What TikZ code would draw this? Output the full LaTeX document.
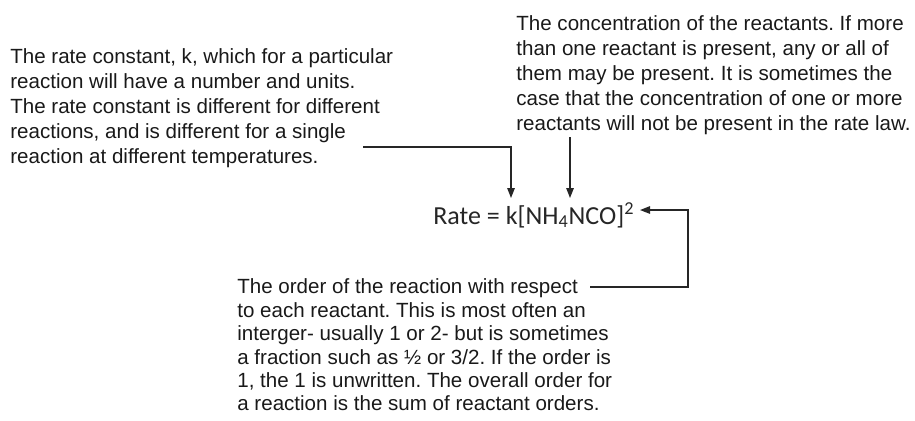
\documentclass[tikz,border=0pt]{standalone}
\usepackage{fontspec}
\setmainfont{Liberation Sans}
\newfontfamily\eqfont{Carlito}
\usetikzlibrary{arrows.meta,positioning}
\frenchspacing

\begin{document}
\begin{tikzpicture}[
		x=0.02cm,y=-0.02cm,
		lab/.style={font=\fontsize{11.7}{14.2}\selectfont,align=left,inner sep=0pt,text=black!90},
		lawtext/.style={font=\eqfont\fontsize{14.8}{17}\selectfont,inner sep=0pt,text=black!85},
		arr/.style={-{Triangle[length=0.2cm,width=0.15cm]},line width=0.75pt,draw=black!85}
		]
		
		\useasboundingbox (0,0) rectangle (915,420);
		
		% --- Rate law
		\node[lawtext,anchor=base west] (law) at (433,224)
			{Rate = k[NH\textsubscript{4}NCO]\textsuperscript{2}};
		
		% --- Explanations
		\node[lab,anchor=west] (kconst) at (10,108) {
			The rate constant, k, which for a particular\\
			reaction will have a number and units.\\
			The rate constant is different for different\\
			reactions, and is different for a single\\
			reaction at different temperatures.
		};
		\node[lab,anchor=west] (conc) at (516,75) {
			The concentration of the reactants. If more\\
			than one reactant is present, any or all of\\
			them may be present. It is sometimes the\\
			case that the concentration of one or more\\
			reactants will not be present in the rate law.
		};
		\node[lab,anchor=west,font=\fontsize{11.7}{13.3}\selectfont] (order) at (237,345) {
			The order of the reaction with respect\\
			to each reactant. This is most often an\\
			interger- usually 1 or 2- but is sometimes\\
			a fraction such as ½ or 3/2. If the order is\\
			1, the 1 is unwritten. The overall order for\\
			a reaction is the sum of reactant orders.
		};
		
		% --- Connector ends
		\coordinate (kfrom) at (363,147);
		\coordinate (kto) at (511,198);
		\coordinate (cfrom) at (570,137);
		\coordinate (cto) at (570,198);
		\coordinate (ofrom) at (590,287);
		\coordinate (obend) at (688,287);
		\coordinate (oto) at (640,210);
		
		\draw[arr] (kfrom) -| (kto);
		\draw[arr] (cfrom) -- (cto);
		\draw[arr] (ofrom) -- (obend) |- (oto);
		
	\end{tikzpicture}
\end{document}
